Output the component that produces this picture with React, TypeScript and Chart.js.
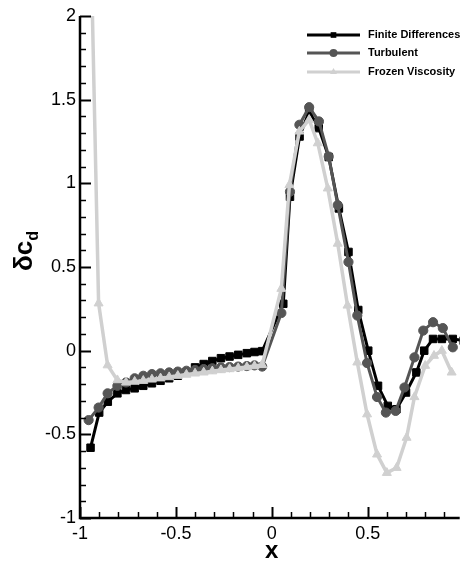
import React, { useEffect, useRef } from "react";
import { Chart, registerables } from "chart.js";
Chart.register(...registerables);

const W = 466;
const H = 562;
const FONT = '"Liberation Sans", Arial, Helvetica, sans-serif';

const seriesLabels = ["Finite Differences", "Turbulent", "Frozen Viscosity"];

const fdX = [-0.945, -0.9, -0.855, -0.805, -0.76, -0.715, -0.67, -0.625, -0.58, -0.535, -0.49, -0.445, -0.4, -0.355, -0.31, -0.265, -0.22, -0.175, -0.13, -0.09, -0.05, 0.06, 0.095, 0.145, 0.195, 0.245, 0.297, 0.35, 0.4, 0.451, 0.503, 0.554, 0.605, 0.65, 0.7, 0.754, 0.795, 0.841, 0.887, 0.944, 1.0];
const fdY = [-0.58, -0.37, -0.305, -0.255, -0.235, -0.225, -0.21, -0.195, -0.18, -0.165, -0.15, -0.13, -0.1, -0.08, -0.062, -0.045, -0.035, -0.025, -0.015, -0.008, -0.003, 0.28, 0.92, 1.28, 1.43, 1.33, 1.157, 0.85, 0.59, 0.243, 0.0, -0.21, -0.33, -0.35, -0.25, -0.13, 0.0, 0.07, 0.07, 0.07, 0.06];

const turbX = [-0.955, -0.903, -0.856, -0.805, -0.76, -0.715, -0.67, -0.625, -0.58, -0.535, -0.49, -0.445, -0.4, -0.355, -0.31, -0.265, -0.22, -0.175, -0.13, -0.09, -0.05, 0.05, 0.095, 0.144, 0.195, 0.246, 0.297, 0.344, 0.4, 0.446, 0.497, 0.549, 0.595, 0.646, 0.692, 0.744, 0.79, 0.841, 0.892, 0.944];
const turbY = [-0.415, -0.34, -0.255, -0.21, -0.19, -0.165, -0.15, -0.14, -0.135, -0.13, -0.125, -0.12, -0.115, -0.11, -0.105, -0.1, -0.098, -0.095, -0.092, -0.088, -0.095, 0.225, 0.95, 1.35, 1.455, 1.37, 1.16, 0.87, 0.53, 0.21, -0.074, -0.277, -0.37, -0.36, -0.22, -0.04, 0.12, 0.17, 0.135, 0.02];

const frozX = [-0.95, -0.903, -0.856, -0.805, -0.76, -0.715, -0.67, -0.625, -0.58, -0.535, -0.49, -0.445, -0.4, -0.355, -0.31, -0.265, -0.22, -0.175, -0.13, -0.09, -0.05, 0.05, 0.092, 0.144, 0.195, 0.24, 0.292, 0.344, 0.395, 0.446, 0.497, 0.549, 0.6, 0.651, 0.703, 0.744, 0.8, 0.846, 0.887, 0.938];
const frozY = [2.8, 0.283, -0.087, -0.176, -0.19, -0.185, -0.18, -0.172, -0.165, -0.158, -0.15, -0.143, -0.136, -0.13, -0.123, -0.116, -0.11, -0.104, -0.098, -0.092, -0.085, 0.37, 0.99, 1.31, 1.38, 1.24, 0.97, 0.64, 0.27, -0.07, -0.38, -0.62, -0.73, -0.7, -0.52, -0.277, -0.09, -0.03, 0.0, -0.13];

const xMajorTicks = [-1, -0.5, 0, 0.5];
const yMajorTicks = [-1, -0.5, 0, 0.5, 1, 1.5, 2];
const minorStep = 0.1;

const colors = ["#000000", "#555555", "#d0d0d0"];
const styles = ["rect", "circle", "triangle"];

function drawMarker(ctx: CanvasRenderingContext2D, style: string, x: number, y: number, r: number) {
  ctx.beginPath();
  if (style === "rect") {
    const s = r * Math.SQRT1_2;
    ctx.rect(x - s, y - s, 2 * s, 2 * s);
  } else if (style === "circle") {
    ctx.arc(x, y, r, 0, Math.PI * 2);
  } else {
    for (let k = 0; k < 3; k++) {
      const a = (k * 2 * Math.PI) / 3;
      const px = x + Math.sin(a) * r;
      const py = y - Math.cos(a) * r;
      if (k === 0) ctx.moveTo(px, py);
      else ctx.lineTo(px, py);
    }
    ctx.closePath();
  }
  ctx.fill();
}

const decorPlugin = {
  id: "decor",
  afterDraw(chart: any) {
    const { ctx, chartArea: a, scales } = chart;
    const xs = scales.x;
    const ys = scales.y;
    ctx.save();
    ctx.strokeStyle = "#000";
    ctx.lineCap = "butt";
    ctx.lineWidth = 2.5;
    ctx.beginPath();
    ctx.moveTo(a.left, a.top);
    ctx.lineTo(a.left, a.bottom);
    ctx.lineTo(a.right, a.bottom);
    ctx.stroke();
    const yMin = yMajorTicks[0];
    const yMax = yMajorTicks[yMajorTicks.length - 1];
    const nY = Math.round((yMax - yMin) / minorStep);
    for (let i = 0; i <= nY; i++) {
      const v = yMin + i * minorStep;
      const major = i % 5 === 0;
      const py = Math.round(ys.getPixelForValue(v)) + 0.5;
      ctx.lineWidth = major ? 2 : 1.5;
      ctx.beginPath();
      ctx.moveTo(a.left, py);
      ctx.lineTo(a.left + (major ? 11 : 6), py);
      ctx.stroke();
    }
    const xMin = xMajorTicks[0];
    for (let i = 0; ; i++) {
      const v = xMin + i * minorStep;
      if (v > xs.max + 1e-9) break;
      const major = i % 5 === 0;
      const px = Math.round(xs.getPixelForValue(v)) + 0.5;
      ctx.lineWidth = major ? 2 : 1.5;
      ctx.beginPath();
      ctx.moveTo(px, a.bottom);
      ctx.lineTo(px, a.bottom - (major ? 11 : 6));
      ctx.stroke();
    }
    ctx.fillStyle = "#000";
    ctx.font = `bold 24px ${FONT}`;
    ctx.textAlign = "center";
    ctx.textBaseline = "alphabetic";
    ctx.fillText("x", xs.getPixelForValue(0), 558);
    ctx.save();
    ctx.translate(24, 251);
    ctx.rotate(-Math.PI / 2);
    ctx.font = `bold 26px ${FONT}`;
    const main = "δc";
    const w1 = ctx.measureText(main).width;
    ctx.font = `bold 16px ${FONT}`;
    const w2 = ctx.measureText("d").width;
    const total = w1 + w2;
    ctx.textAlign = "left";
    ctx.textBaseline = "alphabetic";
    ctx.font = `bold 26px ${FONT}`;
    ctx.fillText(main, -total / 2, 8);
    ctx.font = `bold 16px ${FONT}`;
    ctx.fillText("d", -total / 2 + w1, 14);
    ctx.restore();
    const x0 = 307;
    const x1 = 360;
    const tx = 368;
    const rows = [35, 53, 72];
    for (let k = 0; k < 3; k++) {
      const yy = rows[k];
      ctx.strokeStyle = colors[k];
      ctx.fillStyle = colors[k];
      ctx.lineWidth = 3;
      ctx.beginPath();
      ctx.moveTo(x0, yy);
      ctx.lineTo(x1, yy);
      ctx.stroke();
      drawMarker(ctx, styles[k], (x0 + x1) / 2, yy, 4);
      ctx.fillStyle = "#000";
      ctx.font = `bold 11px ${FONT}`;
      ctx.textAlign = "left";
      ctx.textBaseline = "middle";
      ctx.fillText(seriesLabels[k], tx, yy);
    }
    ctx.restore();
  },
};

export default function App() {
  const ref = useRef<HTMLCanvasElement>(null);
  useEffect(() => {
    const canvas = ref.current!;
    const mk = (xs: number[], ys: number[]) => xs.map((x, i) => ({ x, y: ys[i] }));
    const ds = (k: number, data: any[], radius: number, width: number, order: number) => ({
      label: seriesLabels[k],
      data,
      borderColor: colors[k],
      backgroundColor: colors[k],
      pointBackgroundColor: colors[k],
      pointBorderColor: colors[k],
      pointBorderWidth: 1,
      pointStyle: styles[k],
      pointRadius: radius,
      borderWidth: width,
      tension: 0,
      fill: false,
      order,
    });
    const chart = new Chart(canvas, {
      type: "line",
      data: {
        datasets: [
          ds(2, mk(frozX, frozY), 5.2, 3.5, 0),
          ds(1, mk(turbX, turbY), 4.6, 3, 1),
          ds(0, mk(fdX, fdY), 5.3, 3, 2),
        ],
      },
      options: {
        responsive: false,
        animation: false,
        devicePixelRatio: 1,
        layout: { padding: { top: 16, right: 0, bottom: 0, left: 0 } },
        plugins: { legend: { display: false }, tooltip: { enabled: false } },
        scales: {
          x: {
            type: "linear",
            min: -1,
            max: 0.98,
            grid: { display: false, drawTicks: false },
            border: { display: false },
            ticks: {
              font: { family: FONT, size: 18 },
              color: "#000",
              padding: 5,
              maxRotation: 0,
              autoSkip: false,
              callback: (v: any) => String(v),
            },
            afterBuildTicks: (s: any) => {
              s.ticks = xMajorTicks.map((v) => ({ value: v }));
            },
            afterFit: (s: any) => {
              s.height = 44;
            },
          },
          y: {
            type: "linear",
            min: -1,
            max: 2,
            grid: { display: false, drawTicks: false },
            border: { display: false },
            ticks: {
              font: { family: FONT, size: 18 },
              color: "#000",
              padding: 4,
              autoSkip: false,
              callback: (v: any) => String(v),
            },
            afterBuildTicks: (s: any) => {
              s.ticks = yMajorTicks.map((v) => ({ value: v }));
            },
            afterFit: (s: any) => {
              s.width = 80;
            },
          },
        },
      } as any,
      plugins: [decorPlugin],
    });
    return () => chart.destroy();
  }, []);
  return (
    <div style={{ position: "absolute", left: 0, top: 0, width: W, height: H, background: "#fff" }}>
      <canvas ref={ref} width={W} height={H} style={{ display: "block", width: W, height: H }} />
    </div>
  );
}
